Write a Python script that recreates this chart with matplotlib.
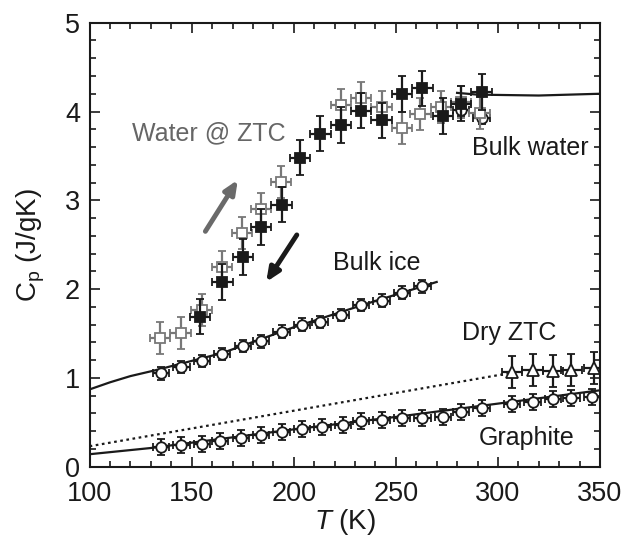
import matplotlib
matplotlib.use("Agg")
import matplotlib.pyplot as plt
from matplotlib.ticker import MultipleLocator

plt.rcParams["font.family"] = ["Liberation Sans", "DejaVu Sans"]
plt.rcParams["mathtext.fontset"] = "custom"
plt.rcParams["mathtext.rm"] = "Liberation Sans"
plt.rcParams["mathtext.it"] = "Liberation Sans:italic"

# Water @ ZTC, heating (open grey squares)
water_up_T = [134.5, 144.6, 154.9, 164.8, 174.6, 183.9, 193.8, 223, 233, 243, 253, 262, 272, 282, 291]
water_up_C = [1.45, 1.50, 1.76, 2.25, 2.63, 2.90, 3.21, 4.07, 4.15, 4.05, 3.81, 3.97, 4.05, 4.11, 3.98]

# Water @ ZTC, cooling (filled black squares)
water_down_T = [154, 165, 175, 184, 194, 203, 213, 223, 233, 243, 253, 263, 273, 282, 292]
water_down_C = [1.69, 2.08, 2.36, 2.70, 2.95, 3.48, 3.75, 3.85, 4.01, 3.90, 4.20, 4.26, 3.95, 4.09, 4.22]

# Bulk water measured points (open circles) and reference curve
bulk_water_T = [282, 292]
bulk_water_C = [4.02, 3.93]
bulk_water_line_T = [280, 290, 320, 350]
bulk_water_line_C = [4.21, 4.19, 4.18, 4.20]

# Bulk ice
ice_T = [135, 145, 155, 165, 175, 184, 194, 204, 213, 223, 233, 243, 253, 263]
ice_C = [1.05, 1.12, 1.19, 1.27, 1.36, 1.41, 1.52, 1.60, 1.63, 1.71, 1.82, 1.87, 1.96, 2.03]
ice_line_T = [100, 110, 120, 133, 165, 200, 235, 270]
ice_line_C = [0.87, 0.95, 1.02, 1.09, 1.28, 1.57, 1.83, 2.08]

# Dry ZTC
dry_T = [307, 317, 327, 336, 347]
dry_C = [1.07, 1.09, 1.08, 1.09, 1.11]
dry_line_T = [100, 305]
dry_line_C = [0.23, 1.05]

# Graphite
graph_T = [135, 145, 155, 164, 174, 184, 194, 204, 214, 224, 233, 243, 253, 263, 273, 282, 292,
           307, 317, 327, 336, 346]
graph_C = [0.22, 0.24, 0.26, 0.29, 0.32, 0.36, 0.39, 0.42, 0.45, 0.47, 0.51, 0.53, 0.55, 0.55,
           0.56, 0.62, 0.66, 0.71, 0.73, 0.76, 0.77, 0.79]
graph_line_T = [100, 130, 150, 200, 250, 300, 350]
graph_line_C = [0.14, 0.21, 0.27, 0.42, 0.56, 0.71, 0.86]

BLACK = "#1a1a1a"
GREY = "#787878"

fig = plt.figure(figsize=(6.4, 5.37), dpi=100)
ax = fig.add_axes([0.14, 0.131, 0.7975, 0.8267])

# reference curves
ax.plot(graph_line_T, graph_line_C, color=BLACK, lw=1.6, zorder=2)
ax.plot(ice_line_T, ice_line_C, color=BLACK, lw=1.6, zorder=2)
ax.plot(bulk_water_line_T, bulk_water_line_C, color=BLACK, lw=1.6, zorder=2)
ax.plot(dry_line_T, dry_line_C, color=BLACK, lw=1.6, ls=(0, (1.2, 1.6)), zorder=2)

eb = dict(capsize=3, elinewidth=1.6, capthick=1.6, linestyle="none")

ax.errorbar(graph_T, graph_C, xerr=4, yerr=0.09, marker="o", ms=7.5, mfc="white",
            mec=BLACK, mew=1.3, ecolor=BLACK, zorder=3, **eb)
ax.errorbar(ice_T, ice_C, xerr=4, yerr=0.07, marker="o", ms=7.5, mfc="white",
            mec=BLACK, mew=1.3, ecolor=BLACK, zorder=3, **eb)
ax.errorbar(dry_T, dry_C, xerr=5, yerr=0.18, marker="^", ms=8.5, mfc="white",
            mec=BLACK, mew=1.3, ecolor=BLACK, zorder=3, **eb)
ax.errorbar(bulk_water_T, bulk_water_C, xerr=4, yerr=0.07, marker="o", ms=7.5, mfc="white",
            mec=BLACK, mew=1.3, ecolor=BLACK, zorder=3, **eb)
ax.errorbar(water_up_T, water_up_C, xerr=5, yerr=0.18, marker="s", ms=7, mfc="white",
            mec=GREY, mew=1.3, ecolor=GREY, zorder=4, **eb)
ax.errorbar(water_down_T, water_down_C, xerr=5, yerr=0.2, marker="s", ms=7, mfc=BLACK,
            mec=BLACK, mew=1.3, ecolor=BLACK, zorder=5, **eb)

# heating / cooling arrows
ax.annotate("", xy=(172.6, 3.23), xytext=(156.7, 2.65),
            arrowprops=dict(arrowstyle="-|>,head_length=0.8,head_width=0.35",
                            color="#6a6a6a", lw=3.5, shrinkA=0, shrinkB=0))
ax.annotate("", xy=(186.5, 2.08), xytext=(201.5, 2.61),
            arrowprops=dict(arrowstyle="-|>,head_length=0.8,head_width=0.35",
                            color=BLACK, lw=3.5, shrinkA=0, shrinkB=0))

ax.text(120.6, 3.68, "Water @ ZTC", fontsize=18, color="#666666")
ax.text(287.3, 3.51, "Bulk water", fontsize=18, color=BLACK)
ax.text(219.2, 2.215, "Bulk ice", fontsize=18, color=BLACK)
ax.text(282.4, 1.427, "Dry ZTC", fontsize=18, color=BLACK)
ax.text(290.5, 0.244, "Graphite", fontsize=18, color=BLACK)

ax.set_xlim(100, 350)
ax.set_ylim(0, 5)
ax.xaxis.set_major_locator(MultipleLocator(50))
ax.xaxis.set_minor_locator(MultipleLocator(10))
ax.yaxis.set_major_locator(MultipleLocator(1))
ax.yaxis.set_minor_locator(MultipleLocator(0.2))
ax.tick_params(which="both", direction="in", top=True, right=True, width=1.2,
               labelsize=19.5, colors=BLACK)
ax.tick_params(which="major", length=7)
ax.tick_params(which="minor", length=4)
ax.tick_params(axis="x", pad=10)
ax.tick_params(axis="y", pad=7)
for spine in ax.spines.values():
    spine.set_linewidth(1.5)
    spine.set_color(BLACK)

ax.set_xlabel("$T$ (K)", fontsize=20, color=BLACK, labelpad=0)
ax.set_ylabel("$\\mathrm{C}_{\\mathrm{p}}$ (J/gK)", fontsize=20, color=BLACK, labelpad=13)

fig.savefig("out.png", dpi=100)
